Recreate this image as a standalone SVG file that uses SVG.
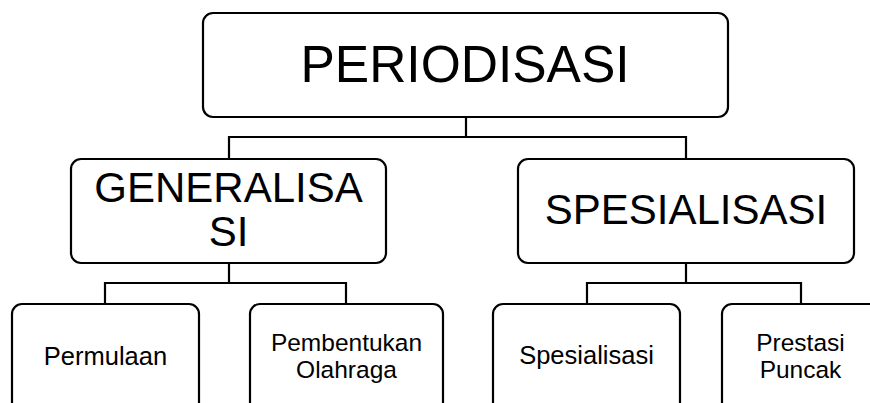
<svg xmlns="http://www.w3.org/2000/svg" width="870" height="403" viewBox="0 0 870 403">
<style>
.box{fill:#fff;stroke:#000;stroke-width:2.2}
.con{fill:none;stroke:#000;stroke-width:2.2}
text{font-family:"Liberation Sans",Arial,sans-serif;fill:#000;text-anchor:middle}
.t1{font-size:51.5px}
.t2{font-size:42px}
.t3{font-size:25.5px}
.t4{font-size:24.5px}
</style>
<rect width="870" height="403" fill="#fff"/>
<g id="connectors">
<path class="con" d="M466 117V137M229 160V137H686V160"/>
<path class="con" d="M229 262V283M105 304V283H346V304"/>
<path class="con" d="M686 262V283M587 304V283H801V304"/>
</g>
<g id="periodisasi">
<rect class="box" x="203" y="13" width="525" height="104" rx="10"/>
<text class="t1" x="465" y="82">PERIODISASI</text>
</g>
<g id="generalisasi">
<rect class="box" x="71" y="159" width="315" height="104" rx="10"/>
<text class="t2" x="228.5" y="202">GENERALISA</text>
<text class="t2" x="228.5" y="246">SI</text>
</g>
<g id="spesialisasi">
<rect class="box" x="518" y="159" width="336" height="104" rx="10"/>
<text class="t2" x="686" y="224">SPESIALISASI</text>
</g>
<g id="permulaan">
<rect class="box" x="12" y="304" width="187" height="112" rx="10"/>
<text class="t3" x="105.5" y="365">Permulaan</text>
</g>
<g id="pembentukan">
<rect class="box" x="250" y="304" width="193" height="112" rx="10"/>
<text class="t4" x="346.5" y="350.5">Pembentukan</text>
<text class="t4" x="346.5" y="377.5">Olahraga</text>
</g>
<g id="spesialisasi2">
<rect class="box" x="493" y="304" width="187" height="112" rx="10"/>
<text class="t3" x="586.5" y="364">Spesialisasi</text>
</g>
<g id="prestasi">
<rect class="box" x="722" y="304" width="158" height="112" rx="10"/>
<text class="t4" x="800.5" y="350.5">Prestasi</text>
<text class="t4" x="800.5" y="377.5">Puncak</text>
</g>
</svg>
